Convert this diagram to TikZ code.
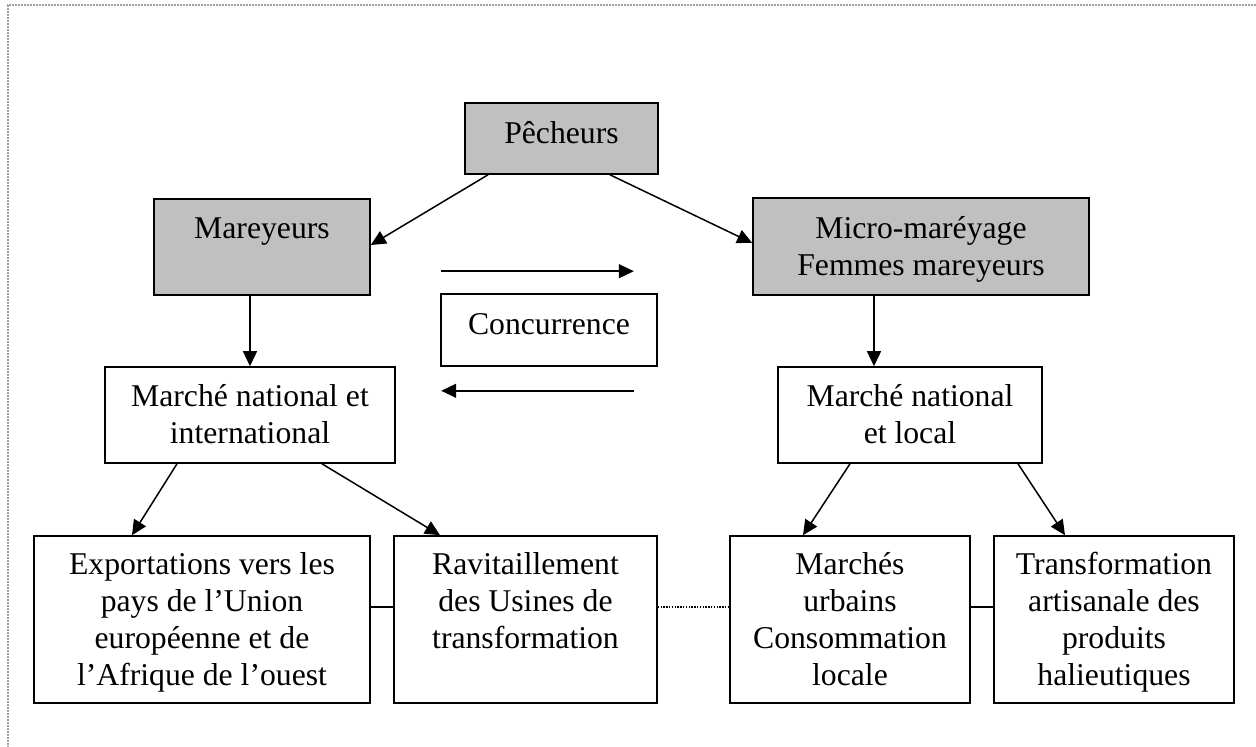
\documentclass[tikz,border=0pt]{standalone}
\usepackage{fontspec}
\setmainfont{Liberation Serif}
\usetikzlibrary{arrows.meta}
\newcommand\mystrut{\rule[-8.5pt]{0pt}{37pt}}
\newcommand\onestrut{\rule[-14pt]{0pt}{37pt}}
\definecolor{boxgray}{HTML}{C0C0C0}
\definecolor{framegray}{HTML}{A0A0A0}
\tikzset{
  box/.style={draw=black, line width=1.6pt, rectangle, inner sep=0pt, align=center,
    font=\fontsize{31.7pt}{37pt}\selectfont},
  graybox/.style={box, fill=boxgray},
  arr/.style={line width=1.5pt, -{Triangle[length=15pt,width=14pt]}},
  link/.style={line width=1.5pt},
  dotlink/.style={line width=1.1pt, dash pattern=on 1.4pt off 1.4pt},
  frame/.style={draw=framegray, line width=1.3pt, dash pattern=on 2pt off 1pt}
}
\begin{document}
\begin{tikzpicture}[x=1pt,y=-1pt]
\useasboundingbox (0,0) rectangle (1256,747);
\draw[frame] (1256,5) -- (8,5) -- (8,747);

\node[graybox, minimum width=193pt, minimum height=71pt] (pech) at (561.5,138.5) {\onestrut P\^echeurs};
\node[graybox, minimum width=216pt, minimum height=96pt] (mar) at (262,247) {\mystrut Mareyeurs\\\mystrut};
\node[graybox, minimum width=336pt, minimum height=97pt] (micro) at (921,246.5) {\mystrut Micro-maréyage\\\mystrut Femmes mareyeurs};
\node[box, minimum width=216pt, minimum height=72pt] (conc) at (549,330) {\onestrut Concurrence};
\node[box, minimum width=290pt, minimum height=96pt] (mni) at (250,415) {\mystrut Marché national et\\\mystrut international};
\node[box, minimum width=264pt, minimum height=96pt] (mnl) at (910,415) {\mystrut Marché national\\\mystrut et local};
\node[box, minimum width=336pt, minimum height=167pt] (exp) at (202,619.5) {\mystrut Exportations vers les\\\mystrut pays de l’Union\\\mystrut européenne et de\\\mystrut l’Afrique de l’ouest};
\node[box, minimum width=263pt, minimum height=167pt] (rav) at (525.5,619.5) {\mystrut Ravitaillement\\\mystrut des Usines de\\\mystrut transformation\\\mystrut};
\node[box, minimum width=240pt, minimum height=167pt] (murb) at (850,619.5) {\mystrut Marchés\\\mystrut urbains\\\mystrut Consommation\\\mystrut locale};
\node[box, minimum width=240pt, minimum height=167pt] (tra) at (1114,619.5) {\mystrut Transformation\\\mystrut artisanale des\\\mystrut produits\\\mystrut halieutiques};

% arrows
\draw[arr] ([xshift=-73.5pt]pech.south) -- ([yshift=2pt]mar.east);
\draw[arr] ([xshift=48.5pt]pech.south) -- ([yshift=3.5pt]micro.west);
\draw[arr] (mni.north |- mar.south) -- (mni.north);
\draw[arr] ([xshift=-47pt]micro.south) -- ([xshift=-47pt]micro.south |- mnl.north);
\draw[arr] ([xshift=-73pt]mni.south) -- ([xshift=-70pt]exp.north);
\draw[arr] ([xshift=72pt]mni.south) -- ([xshift=-85.5pt]rav.north);
\draw[arr] ([xshift=-60pt]mnl.south) -- ([xshift=-47pt]murb.north);
\draw[arr] ([xshift=108pt]mnl.south) -- ([xshift=-49pt]tra.north);
\draw[arr] ([shift={(1pt,22pt)}]conc.north west) -- ([shift={(-24pt,22pt)}]conc.north east);
\draw[arr] ([shift={(-24pt,-24pt)}]conc.south east) -- ([shift={(1pt,-24pt)}]conc.south west);

% links between bottom boxes
\draw[link] ([yshift=12.5pt]exp.east) -- ([yshift=12.5pt]rav.west);
\draw[dotlink] ([yshift=12.5pt]rav.east) -- ([yshift=12.5pt]murb.west);
\draw[link] ([yshift=12.5pt]murb.east) -- ([yshift=12.5pt]tra.west);
\end{tikzpicture}
\end{document}
